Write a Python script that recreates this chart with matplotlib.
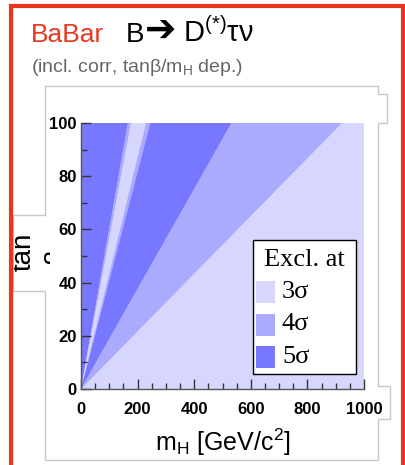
import matplotlib
matplotlib.use("Agg")
import matplotlib.pyplot as plt
from matplotlib.patches import Rectangle, Polygon

plt.rcParams['font.family'] = ['Liberation Sans', 'DejaVu Sans']
plt.rcParams['mathtext.fontset'] = 'custom'
plt.rcParams['mathtext.rm'] = 'Liberation Sans'
plt.rcParams['mathtext.it'] = 'Liberation Sans:italic'

# exclusion bands: boundaries given as m_H at tan(beta) = 100 (lines through origin)
borde_m = [0, 166, 177, 230, 245, 532, 922]
nivel = [5, 4, 3, 4, 5, 4]          # beyond last boundary -> 3 sigma
niveles = [3, 4, 5]
etiquetas = ['3σ', '4σ', '5σ']
colores = {3: '#d6d6ff', 4: '#aaaaff', 5: '#7777ff'}
xticks = [0, 200, 400, 600, 800, 1000]
yticks = [0, 20, 40, 60, 80, 100]

W, H = 406, 465
fig = plt.figure(figsize=(W / 100, H / 100), dpi=100)

def px(x, y):
    return (x / W, 1 - y / H)

# etiqueta y cortada (queda detras de la imagen pegada)
fig.text(*px(24, 252), 'tan', fontsize=20, rotation=90, ha='center', va='center', zorder=0)
fig.text(*px(56, 256), 'β', fontsize=20, rotation=90, ha='center', va='center', zorder=0)

# marco gris de la imagen pegada
caja = [(45, 86), (378, 86), (378, 94), (387, 94), (387, 123), (378, 123),
        (378, 386), (390, 386), (390, 419), (378, 419), (378, 460), (45, 460),
        (45, 291), (13, 291), (13, 215), (45, 215)]
fig.patches.append(Rectangle(px(50, 300), 30 / W, 90 / H, transform=fig.transFigure,
                             facecolor='white', lw=0, zorder=0.4))
fig.patches.append(Polygon([px(*p) for p in caja], closed=True, transform=fig.transFigure,
                           facecolor='none', edgecolor='#c8c8c8', lw=1, zorder=0.5))

# borde rojo
fig.patches.append(Rectangle(px(11, 480), (403 - 11) / W, (480 - 6) / H, transform=fig.transFigure,
                             fill=False, edgecolor='#e8361f', lw=3, zorder=3))

fig.text(*px(31, 42), 'BaBar', color='#e8361f', fontsize=19, va='baseline')
fig.text(*px(126, 42), 'B', color='black', fontsize=20, va='baseline')
fig.text(*px(145, 42), '➔', color='black', fontsize=27, va='baseline', family='DejaVu Sans')
fig.text(*px(183, 42), 'D$^{(*)}$τν', color='black', fontsize=21, va='baseline')
fig.text(*px(31, 72), '(incl. corr, tanβ/m$_\\mathrm{H}$ dep.)', color='#666666', fontsize=14, va='baseline')

ax = fig.add_axes([81 / W, 76 / H, 283 / W, 266 / H])
ax.set_zorder(1)
ax.set_facecolor(colores[3])
for lo, hi, n in zip(borde_m[:-1], borde_m[1:], nivel):
    ax.fill([0, lo, hi], [0, 100, 100], color=colores[n], lw=0)

ax.set_xlim(0, 1000)
ax.set_ylim(0, 100)
ax.set_xticks(xticks)
ax.set_yticks(yticks)
ax.set_xticks(range(0, 1001, 50), minor=True)
ax.set_yticks(range(0, 101, 10), minor=True)
ax.tick_params(which='both', direction='in', top=False, right=False, labelsize=12, width=1, color='#333333')
ax.tick_params(which='major', length=7)
ax.tick_params(which='minor', length=4)
ax.tick_params(axis='x', pad=9)
ax.tick_params(axis='y', pad=3)
for lab in ax.get_xticklabels() + ax.get_yticklabels():
    lab.set_fontweight('bold')
for s in ['top', 'right']:
    ax.spines[s].set_visible(False)
for s in ['left', 'bottom']:
    ax.spines[s].set_color('#555555')
    ax.spines[s].set_linewidth(1)
ax.set_xlabel('m$_\\mathrm{H}$ [GeV/c$^2$]', fontsize=18, labelpad=7)

# leyenda
def axp(x, y):
    return ((x - 81) / 283, (389 - y) / 266)

x0, y0 = axp(253, 374)
x1, y1 = axp(356, 240)
ax.add_patch(Rectangle((x0, y0), x1 - x0, y1 - y0, transform=ax.transAxes,
                       facecolor='white', edgecolor='black', lw=1, zorder=5))
ax.text(*axp(304, 260), 'Excl. at', transform=ax.transAxes, fontsize=19,
        family='Liberation Serif', ha='center', va='center', zorder=6)
for i, (n, et) in enumerate(zip(niveles, etiquetas)):
    yc = 292 + i * 32.5
    sx, sy = axp(256, yc + 11)
    ex, ey = axp(275, yc - 11)
    ax.add_patch(Rectangle((sx, sy), ex - sx, ey - sy, transform=ax.transAxes,
                           facecolor=colores[n], lw=0, zorder=6))
    ax.text(*axp(282, yc), et, transform=ax.transAxes, fontsize=19,
            family='Liberation Serif', ha='left', va='center', zorder=6)

fig.savefig('out.png', dpi=100)
